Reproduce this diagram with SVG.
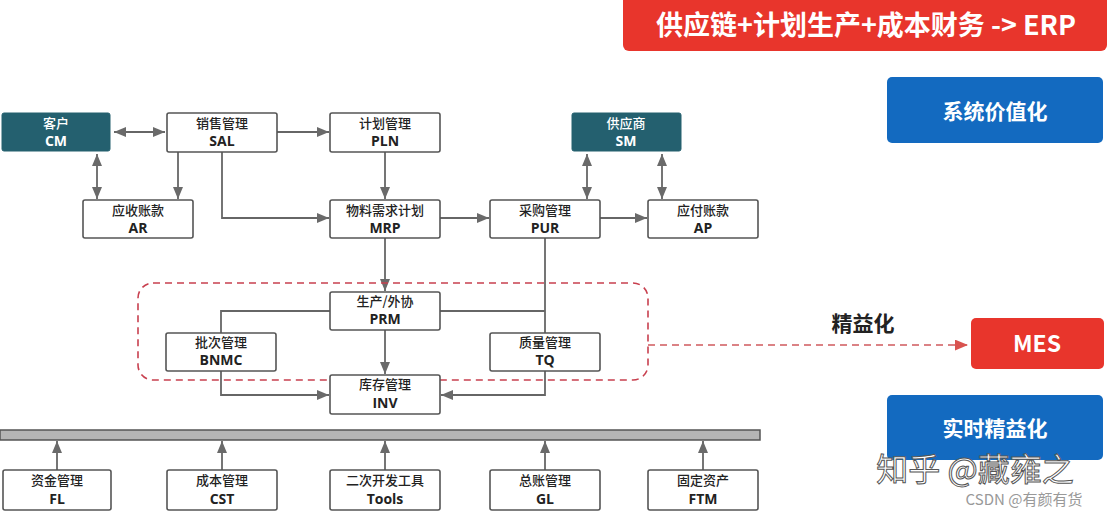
<svg xmlns="http://www.w3.org/2000/svg" width="1108" height="518" viewBox="0 0 1108 518">
<defs>
<style>
.box{fill:#fff;stroke:#555;stroke-width:1.6}
.teal{fill:#24606f;stroke:#24606f}
.cn{font-family:"Noto Sans CJK SC","Noto Sans",sans-serif;font-size:13px;font-weight:500;fill:#222;text-anchor:middle}
.en{font-family:"Open Sans","Liberation Sans",sans-serif;font-size:14px;font-weight:bold;fill:#222;text-anchor:middle}
.w{fill:#fff}
.ln{fill:none;stroke:#666;stroke-width:1.8}
.big{font-family:"Noto Sans CJK SC","Noto Sans",sans-serif;font-weight:bold;fill:#fff;text-anchor:middle}
</style>
<marker id="ah" viewBox="0 0 12 10" refX="12" refY="5" markerWidth="12" markerHeight="10" markerUnits="userSpaceOnUse" orient="auto-start-reverse">
<path d="M0,0 L12,5 L0,10 Z" fill="#6a6a6a"/>
</marker>
<marker id="rh" viewBox="0 0 12 10" refX="12" refY="5" markerWidth="13" markerHeight="11" markerUnits="userSpaceOnUse" orient="auto">
<path d="M0,0 L12,5 L0,10 Z" fill="#d9534f"/>
</marker>
</defs>
<rect width="1108" height="518" fill="#fff"/>

<g id="connectors">
<line class="ln" x1="114" y1="132" x2="165" y2="132" marker-start="url(#ah)" marker-end="url(#ah)"/>
<line class="ln" x1="97" y1="154" x2="97" y2="199" marker-start="url(#ah)" marker-end="url(#ah)"/>
<line class="ln" x1="178" y1="152" x2="178" y2="199" marker-end="url(#ah)"/>
<path class="ln" d="M222 152 V218 H329" marker-end="url(#ah)"/>
<line class="ln" x1="277" y1="132" x2="329" y2="132" marker-end="url(#ah)"/>
<line class="ln" x1="385" y1="152" x2="385" y2="199" marker-end="url(#ah)"/>
<line class="ln" x1="440" y1="218" x2="489" y2="218" marker-end="url(#ah)"/>
<line class="ln" x1="587" y1="154" x2="587" y2="199" marker-start="url(#ah)" marker-end="url(#ah)"/>
<line class="ln" x1="600" y1="218" x2="647" y2="218" marker-end="url(#ah)"/>
<line class="ln" x1="662" y1="154" x2="662" y2="199" marker-start="url(#ah)" marker-end="url(#ah)"/>
<path class="ln" d="M545 238 V333"/>
<path class="ln" d="M440 311 H545"/>
<path class="ln" d="M330 311 H221 V333"/>
<line class="ln" x1="385" y1="238" x2="385" y2="291" marker-end="url(#ah)"/>
<line class="ln" x1="385" y1="330" x2="385" y2="374" marker-end="url(#ah)"/>
<path class="ln" d="M221 371 V395 H329" marker-end="url(#ah)"/>
<path class="ln" d="M545 371 V395 H441" marker-end="url(#ah)"/>
<line class="ln" x1="57" y1="470" x2="57" y2="441" marker-end="url(#ah)"/>
<line class="ln" x1="222" y1="470" x2="222" y2="441" marker-end="url(#ah)"/>
<line class="ln" x1="385" y1="470" x2="385" y2="441" marker-end="url(#ah)"/>
<line class="ln" x1="545" y1="470" x2="545" y2="441" marker-end="url(#ah)"/>
<line class="ln" x1="703" y1="470" x2="703" y2="441" marker-end="url(#ah)"/>
<line x1="648" y1="345" x2="968" y2="345" stroke="#d05a5e" stroke-width="1.6" stroke-dasharray="7 5" marker-end="url(#rh)"/>
</g>

<g id="lean-zone">
<rect x="138" y="283" width="510" height="97" rx="15" fill="none" stroke="#c8404f" stroke-width="1.6" stroke-dasharray="7 5"/>
</g>

<g id="bus">
<rect x="0" y="430" width="760" height="10" fill="#b5b5b5" stroke="#555" stroke-width="1.5"/>
</g>

<g id="CM"><rect class="teal" x="2" y="113" width="108" height="38" rx="2"/><text class="cn w" x="56" y="128">客户</text><text class="en w" x="56" y="146">CM</text></g>
<g id="SAL"><rect class="box" x="167" y="113" width="110" height="39" rx="2"/><text class="cn" x="222" y="128">销售管理</text><text class="en" x="222" y="146">SAL</text></g>
<g id="PLN"><rect class="box" x="330" y="113" width="110" height="39" rx="2"/><text class="cn" x="385" y="128">计划管理</text><text class="en" x="385" y="146">PLN</text></g>
<g id="SM"><rect class="teal" x="572" y="113" width="109" height="38" rx="2"/><text class="cn w" x="626" y="128">供应商</text><text class="en w" x="626" y="146">SM</text></g>
<g id="AR"><rect class="box" x="83" y="200" width="110" height="38" rx="2"/><text class="cn" x="138" y="215">应收账款</text><text class="en" x="138" y="233">AR</text></g>
<g id="MRP"><rect class="box" x="330" y="200" width="110" height="38" rx="2"/><text class="cn" x="385" y="215">物料需求计划</text><text class="en" x="385" y="233">MRP</text></g>
<g id="PUR"><rect class="box" x="490" y="200" width="110" height="38" rx="2"/><text class="cn" x="545" y="215">采购管理</text><text class="en" x="545" y="233">PUR</text></g>
<g id="AP"><rect class="box" x="648" y="200" width="110" height="38" rx="2"/><text class="cn" x="703" y="215">应付账款</text><text class="en" x="703" y="233">AP</text></g>
<g id="PRM"><rect class="box" x="330" y="292" width="110" height="38" rx="2"/><text class="cn" x="385" y="306">生产/外协</text><text class="en" x="385" y="324">PRM</text></g>
<g id="BNMC"><rect class="box" x="166" y="333" width="110" height="38" rx="2"/><text class="cn" x="221" y="347">批次管理</text><text class="en" x="221" y="365">BNMC</text></g>
<g id="TQ"><rect class="box" x="490" y="333" width="110" height="38" rx="2"/><text class="cn" x="545" y="347">质量管理</text><text class="en" x="545" y="365">TQ</text></g>
<g id="INV"><rect class="box" x="330" y="375" width="110" height="39" rx="2"/><text class="cn" x="385" y="389">库存管理</text><text class="en" x="385" y="408">INV</text></g>

<g id="FL"><rect class="box" x="3" y="470" width="108" height="40" rx="2"/><text class="cn" x="57" y="485">资金管理</text><text class="en" x="57" y="504">FL</text></g>
<g id="CST"><rect class="box" x="167" y="470" width="110" height="40" rx="2"/><text class="cn" x="222" y="485">成本管理</text><text class="en" x="222" y="504">CST</text></g>
<g id="Tools"><rect class="box" x="330" y="470" width="110" height="40" rx="2"/><text class="cn" x="385" y="485">二次开发工具</text><text class="en" x="385" y="504">Tools</text></g>
<g id="GL"><rect class="box" x="490" y="470" width="110" height="40" rx="2"/><text class="cn" x="545" y="485">总账管理</text><text class="en" x="545" y="504">GL</text></g>
<g id="FTM"><rect class="box" x="648" y="470" width="110" height="40" rx="2"/><text class="cn" x="703" y="485">固定资产</text><text class="en" x="703" y="504">FTM</text></g>

<g id="ERP"><rect x="623" y="-6" width="484" height="57" rx="6" fill="#e8352c"/><text class="big" x="866" y="35" font-size="27">供应链+计划生产+成本财务 -&gt; ERP</text></g>
<g id="value"><rect x="887" y="77" width="216" height="66" rx="5" fill="#136ac0"/><text class="big" x="995" y="119" font-size="21">系统价值化</text></g>
<g id="lean-label"><text x="863" y="331" font-family="Noto Sans CJK SC,sans-serif" font-weight="bold" font-size="21" fill="#222" text-anchor="middle">精益化</text></g>
<g id="MES"><rect x="971" y="318" width="133" height="51" rx="5" fill="#e8352c"/><text class="big" x="1037" y="352" font-size="23" font-family="Open Sans,Liberation Sans,sans-serif">MES</text></g>
<g id="realtime"><rect x="887" y="395" width="216" height="65" rx="5" fill="#136ac0"/><text class="big" x="995" y="436" font-size="21">实时精益化</text></g>

<g id="watermark">
<text x="975" y="481" font-family="Noto Sans CJK SC,sans-serif" font-size="32" fill="#fff" stroke="#555" stroke-width="1" text-anchor="middle">知乎 @藏雍之</text>
<text x="1024" y="505" font-family="Noto Sans CJK SC,sans-serif" font-size="15" fill="#999" text-anchor="middle">CSDN @有颜有货</text>
</g>
</svg>
